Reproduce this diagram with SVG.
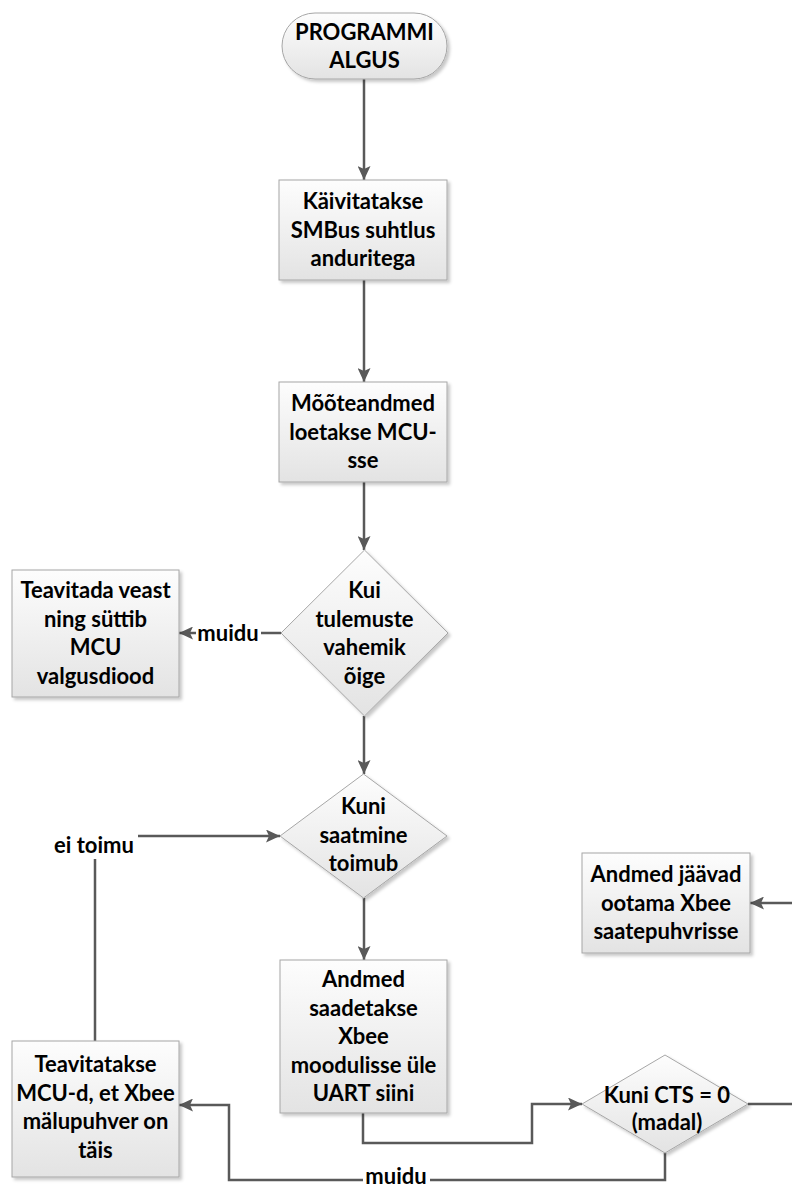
<svg xmlns="http://www.w3.org/2000/svg" width="792" height="1189" viewBox="0 0 792 1189">
<defs>
<linearGradient id="g" x1="0" y1="0" x2="0" y2="1">
<stop offset="0" stop-color="#fdfdfd"/>
<stop offset="1" stop-color="#e3e3e3"/>
</linearGradient>
<filter id="sh" x="-10%" y="-10%" width="130%" height="130%">
<feDropShadow dx="2.5" dy="2.5" stdDeviation="1.5" flood-color="#000" flood-opacity="0.22"/>
</filter>
<marker id="ah" markerUnits="userSpaceOnUse" markerWidth="15" markerHeight="13" refX="14" refY="6.5" orient="auto">
<path d="M0,0 L14,6.5 L0,13 L3,6.5 z" fill="#595959"/>
</marker>
</defs>
<style>
.n{fill:url(#g);stroke:#a6a6a6;stroke-width:1;filter:url(#sh)}
.t{font-family:Lato,"Liberation Sans",sans-serif;font-weight:bold;font-size:22px;fill:#000;text-anchor:middle}
.c{fill:none;stroke:#595959;stroke-width:2.5}
.a{marker-end:url(#ah)}
.bg{fill:#fff}
</style>
<rect width="792" height="1189" fill="#fff"/>

<g id="connectors">
<path class="c a" d="M364,79 V180"/>
<path class="c a" d="M364,280 V382"/>
<path class="c a" d="M364,482 V550"/>
<path class="c a" d="M281,633 H179"/>
<path class="c a" d="M364,716 V774"/>
<path class="c a" d="M95,1041 V836 H280"/>
<path class="c a" d="M364,898 V960"/>
<path class="c a" d="M363,1113 V1143 H532 V1104 H582"/>
<path class="c a" d="M748,1104 H805 V903 H750"/>
<path class="c a" d="M665,1153 V1180 H229 V1105 H179"/>
<g id="labels">
<rect class="bg" x="196" y="622" width="65" height="24"/>
<text class="t" x="228" y="641">muidu</text>
<rect class="bg" x="50" y="826" width="88" height="33"/>
<text class="t" x="94" y="853">ei toimu</text>
<rect class="bg" x="363" y="1166" width="67" height="23"/>
<text class="t" x="396" y="1183.5">muidu</text>
</g>
</g>

<g id="start">
<rect class="n" x="282" y="13" width="165" height="66" rx="33"/>
<text class="t" x="364.5" y="40">PROGRAMMI</text>
<text class="t" x="364.5" y="68">ALGUS</text>
</g>

<g id="smbus">
<rect class="n" x="279" y="180" width="168" height="100"/>
<text class="t" x="363" y="209">Käivitatakse</text>
<text class="t" x="363" y="237.5">SMBus suhtlus</text>
<text class="t" x="363" y="266">anduritega</text>
</g>

<g id="moot">
<rect class="n" x="279" y="382" width="168" height="100"/>
<text class="t" x="363" y="411">Mõõteandmed</text>
<text class="t" x="363" y="439.5">loetakse MCU-</text>
<text class="t" x="363" y="468">sse</text>
</g>

<g id="kui">
<polygon class="n" points="364.5,550 448,633 364.5,716 281,633"/>
<text class="t" x="364.5" y="598">Kui</text>
<text class="t" x="364.5" y="626.5">tulemuste</text>
<text class="t" x="364.5" y="655">vahemik</text>
<text class="t" x="364.5" y="683.5">õige</text>
</g>

<g id="viga">
<rect class="n" x="12" y="570" width="167" height="127"/>
<text class="t" x="95.5" y="598">Teavitada veast</text>
<text class="t" x="95.5" y="626.5">ning süttib</text>
<text class="t" x="95.5" y="655">MCU</text>
<text class="t" x="95.5" y="683.5">valgusdiood</text>
</g>

<g id="saatmine">
<polygon class="n" points="363.5,774 447,836 363.5,898 280,836"/>
<text class="t" x="363.5" y="814">Kuni</text>
<text class="t" x="363.5" y="842.5">saatmine</text>
<text class="t" x="363.5" y="871">toimub</text>
</g>

<g id="saadetakse">
<rect class="n" x="280" y="960" width="167" height="153"/>
<text class="t" x="363.5" y="987">Andmed</text>
<text class="t" x="363.5" y="1015.5">saadetakse</text>
<text class="t" x="363.5" y="1044">Xbee</text>
<text class="t" x="363.5" y="1072.5">moodulisse üle</text>
<text class="t" x="363.5" y="1101">UART siini</text>
</g>

<g id="jaavad">
<rect class="n" x="582" y="853" width="168" height="100"/>
<text class="t" x="666" y="882">Andmed jäävad</text>
<text class="t" x="666" y="910.5">ootama Xbee</text>
<text class="t" x="666" y="939">saatepuhvrisse</text>
</g>

<g id="cts">
<polygon class="n" points="665,1055 748,1104 665,1153 582,1104"/>
<text class="t" x="667" y="1103">Kuni CTS = 0</text>
<text class="t" x="667" y="1130">(madal)</text>
</g>

<g id="taispuhver">
<rect class="n" x="12" y="1041" width="167" height="136"/>
<text class="t" x="95.5" y="1072">Teavitatakse</text>
<text class="t" x="95.5" y="1100.5">MCU-d, et Xbee</text>
<text class="t" x="95.5" y="1129">mälupuhver on</text>
<text class="t" x="95.5" y="1157.5">täis</text>
</g>
</svg>
